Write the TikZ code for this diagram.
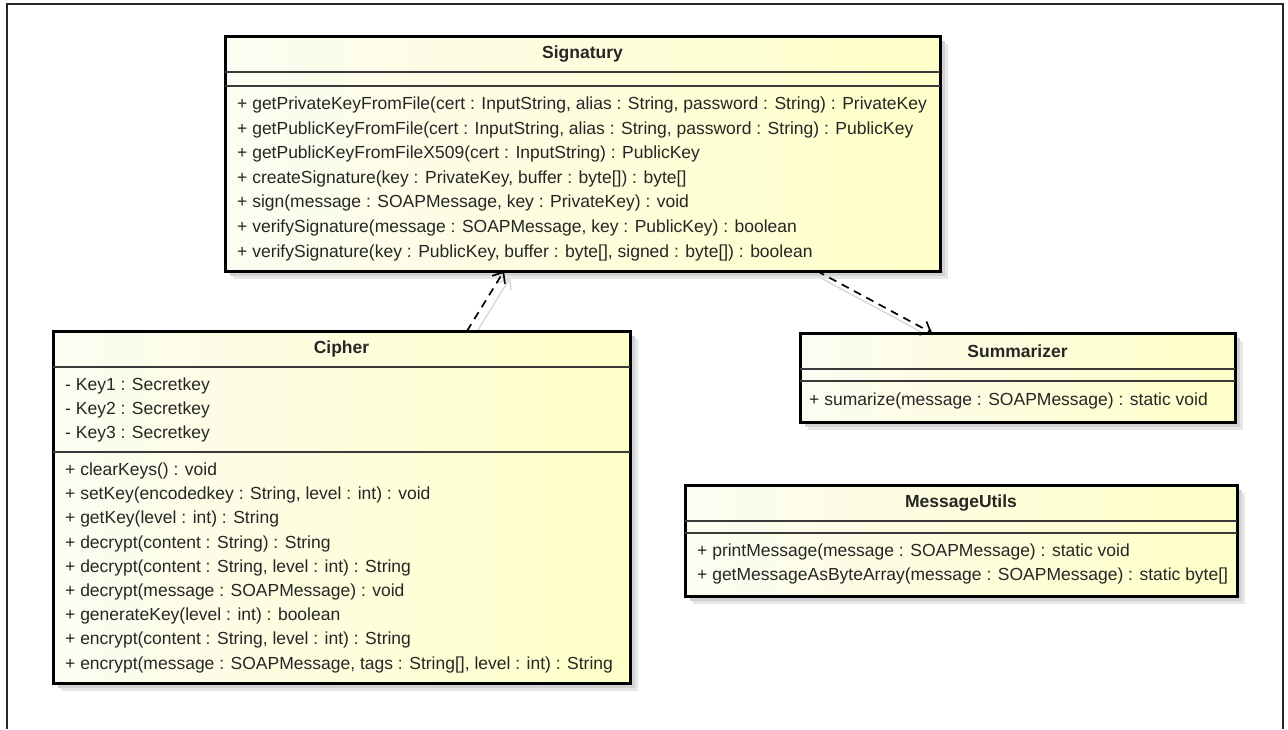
\documentclass[tikz,border=0pt]{standalone}
\usepackage{fontspec}
\setmainfont{Liberation Sans}
\usetikzlibrary{arrows.meta,backgrounds}
\definecolor{ink}{HTML}{262626}
\definecolor{paleL}{HTML}{FCFCF2}
\definecolor{paleR}{HTML}{FFFFC8}
\definecolor{rule}{HTML}{3A3A3A}
\definecolor{ghost}{HTML}{D4D4D4}
\definecolor{shadowouter}{HTML}{E6E6E6}
\definecolor{shadowinner}{HTML}{D2D2D2}
\tikzset{
  classbox/.style={draw=black, line width=3pt, left color=paleL, right color=paleR,
    anchor=north west, inner sep=0pt, outer sep=0pt},
  divider/.style={draw=rule, line width=1.5pt},
  classname/.style={font=\fontsize{17.5}{21}\selectfont\bfseries, text=ink, inner sep=0pt},
  member/.style={font=\fontsize{17.5}{21}\selectfont, text=ink, anchor=west, inner sep=0pt},
  dep/.style={draw=black, line width=1.7pt, dash pattern=on 8pt off 6pt,
    -{Straight Barb[length=9pt,width=15pt,line width=1.7pt]}},
  depshadow/.style={draw=ghost, line width=1.2pt,
    -{Straight Barb[length=9pt,width=15pt,line width=1.2pt]}},
  frame/.style={draw=black!85, line width=2pt},
}
\begin{document}
\begin{tikzpicture}[x=1pt,y=-1pt]
\useasboundingbox (0,0) rectangle (1288,729);

% outer diagram frame (open at the bottom)
\draw[frame] (7,729) -- (7,4) -- (1283,4) -- (1283,729);

% ---------- Signatury ----------
\node[classbox, minimum width=715pt, minimum height=235pt] (sig) at (225,36) {};
\node[classname] (sig-name) at (sig.north |- 0,54) {Signatury};
\draw[divider] (sig.west |- 0,72) -- (sig.east |- 0,72);
\draw[divider] (sig.west |- 0,86) -- (sig.east |- 0,86);
\node[member] (sig-m1) at (237,105.0) {+ getPrivateKeyFromFile(cert : InputString, alias : String, password : String) : PrivateKey};
\node[member] (sig-m2) at (237,129.6) {+ getPublicKeyFromFile(cert : InputString, alias : String, password : String) : PublicKey};
\node[member] (sig-m3) at (237,154.2) {+ getPublicKeyFromFileX509(cert : InputString) : PublicKey};
\node[member] (sig-m4) at (237,178.8) {+ createSignature(key : PrivateKey, buffer : byte[]) : byte[]};
\node[member] (sig-m5) at (237,203.4) {+ sign(message : SOAPMessage, key : PrivateKey) : void};
\node[member] (sig-m6) at (237,228.0) {+ verifySignature(message : SOAPMessage, key : PublicKey) : boolean};
\node[member] (sig-m7) at (237,252.6) {+ verifySignature(key : PublicKey, buffer : byte[], signed : byte[]) : boolean};

% ---------- Cipher ----------
\node[classbox, minimum width=577pt, minimum height=352pt] (cip) at (53,331) {};
\node[classname] (cip-name) at (cip.north |- 0,349) {Cipher};
\draw[divider] (cip.west |- 0,367) -- (cip.east |- 0,367);
\node[member] (cip-a1) at (65,386.0) {- Key1 : Secretkey};
\node[member] (cip-a2) at (65,410.2) {- Key2 : Secretkey};
\node[member] (cip-a3) at (65,434.4) {- Key3 : Secretkey};
\draw[divider] (cip.west |- 0,452) -- (cip.east |- 0,452);
\node[member] (cip-m1) at (65,471.0) {+ clearKeys() : void};
\node[member] (cip-m2) at (65,495.2) {+ setKey(encodedkey : String, level : int) : void};
\node[member] (cip-m3) at (65,519.4) {+ getKey(level : int) : String};
\node[member] (cip-m4) at (65,543.6) {+ decrypt(content : String) : String};
\node[member] (cip-m5) at (65,567.8) {+ decrypt(content : String, level : int) : String};
\node[member] (cip-m6) at (65,592.0) {+ decrypt(message : SOAPMessage) : void};
\node[member] (cip-m7) at (65,616.2) {+ generateKey(level : int) : boolean};
\node[member] (cip-m8) at (65,640.4) {+ encrypt(content : String, level : int) : String};
\node[member] (cip-m9) at (65,664.6) {+ encrypt(message : SOAPMessage, tags : String[], level : int) : String};

% ---------- Summarizer ----------
\node[classbox, minimum width=435pt, minimum height=89pt] (sum) at (800,333) {};
\node[classname] (sum-name) at (sum.north |- 0,351) {Summarizer};
\draw[divider] (sum.west |- 0,369) -- (sum.east |- 0,369);
\draw[divider] (sum.west |- 0,381) -- (sum.east |- 0,381);
\node[member] (sum-m1) at (809,400.5) {+ sumarize(message : SOAPMessage) : static void};

% ---------- MessageUtils ----------
\node[classbox, minimum width=552pt, minimum height=111pt] (mu) at (685,485) {};
\node[classname] (mu-name) at (mu.north |- 0,503) {MessageUtils};
\draw[divider] (mu.west |- 0,521) -- (mu.east |- 0,521);
\draw[divider] (mu.west |- 0,533) -- (mu.east |- 0,533);
\node[member] (mu-m1) at (697,552) {+ printMessage(message : SOAPMessage) : static void};
\node[member] (mu-m2) at (697,576) {+ getMessageAsByteArray(message : SOAPMessage) : static byte[]};

% ---------- dependency ends ----------
\coordinate (d1s) at (467,0 |- cip.north);
\coordinate (d1e) at (504,0 |- sig.south);
\coordinate (d2s) at (817,0 |- sig.south);
\coordinate (d2e) at (932,0 |- sum.north);

% ---------- soft box shadows and connector ghosts, behind everything ----------
\begin{scope}[on background layer]
  \fill[white] (0,0) rectangle (1288,729);
  \foreach \b in {sig,cip,sum,mu}{
    \fill[shadowouter] ([shift={(8,8)}]\b.north west) rectangle ([shift={(8,8)}]\b.south east);
    \fill[shadowinner] ([shift={(5,5)}]\b.north west) rectangle ([shift={(5,5)}]\b.south east);
  }
  \draw[depshadow] ([shift={(6,7)}]d1s) -- ([shift={(6,7)}]d1e);
  \draw[depshadow] ([shift={(4,7)}]d2s) -- ([shift={(4,7)}]d2e);
\end{scope}

% ---------- dependencies ----------
\draw[dep] (d1s) -- (d1e);
\draw[dep] (d2s) -- (d2e);
\end{tikzpicture}
\end{document}
